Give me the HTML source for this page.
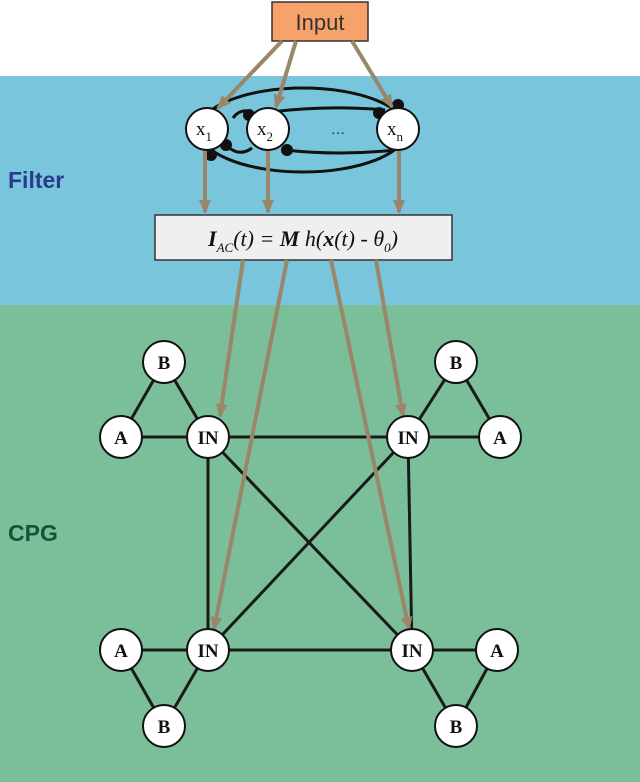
<!DOCTYPE html><html><head><style>body{margin:0;background:#fff}svg{display:block}</style></head><body>
<svg width="640" height="782" viewBox="0 0 640 782" xmlns="http://www.w3.org/2000/svg" font-family="Liberation Serif, serif">
<defs><marker id="ar" markerWidth="14" markerHeight="12" refX="12" refY="6" orient="auto" markerUnits="userSpaceOnUse"><path d="M0,0 L14,6 L0,12 z" fill="#9a8769"/></marker></defs>
<rect x="0" y="76" width="640" height="229" fill="#79c6dc"/>
<rect x="0" y="305" width="640" height="477" fill="#7bbf9a"/>
<text x="8" y="188" font-family="Liberation Sans, sans-serif" font-weight="bold" font-size="23" fill="#2a3a8c">Filter</text>
<text x="8" y="541" font-family="Liberation Sans, sans-serif" font-weight="bold" font-size="23" fill="#14553a">CPG</text>
<rect x="272" y="2" width="96" height="39" fill="#f7a26a" stroke="#333" stroke-width="1.5"/>
<text x="320" y="30" text-anchor="middle" font-family="Liberation Sans, sans-serif" font-size="22" fill="#333">Input</text>
<g fill="none" stroke="#111" stroke-width="3">
<ellipse cx="303" cy="130" rx="104" ry="42"/>
<path d="M270,112 Q330,105 385,110 M285,150 Q340,156 395,150"/>
<path d="M233,118 Q240,108 252,112 M228,147 Q240,157 252,148"/>
</g>
<g fill="#111"><circle cx="249" cy="115" r="6"/><circle cx="226" cy="145" r="6"/><circle cx="211" cy="155" r="6"/><circle cx="287" cy="150" r="6"/><circle cx="379" cy="113" r="6"/><circle cx="398" cy="105" r="6"/></g>
<g stroke="#9a8769" stroke-width="4" marker-end="url(#ar)">
<line x1="282" y1="41" x2="218" y2="108"/><line x1="296" y1="41" x2="276" y2="107"/><line x1="352" y1="41" x2="392" y2="107"/>
<line x1="205" y1="150" x2="205" y2="212"/><line x1="268" y1="150" x2="268" y2="212"/><line x1="399" y1="150" x2="399" y2="212"/>
</g>
<g fill="#fff" stroke="#111" stroke-width="2"><circle cx="207" cy="129" r="21"/><circle cx="268" cy="129" r="21"/><circle cx="398" cy="129" r="21"/></g>
<g font-size="19" fill="#111" text-anchor="middle"><text x="204" y="135">x<tspan font-size="13" dy="6">1</tspan></text><text x="265" y="135">x<tspan font-size="13" dy="6">2</tspan></text><text x="395" y="135">x<tspan font-size="13" dy="6">n</tspan></text><text x="338" y="134" font-size="14">…</text></g>
<rect x="155" y="215" width="297" height="45" fill="#efefef" stroke="#333" stroke-width="1.5"/>
<text x="303" y="246" text-anchor="middle" font-size="22" font-style="italic" fill="#111"><tspan font-weight="bold">I</tspan><tspan font-size="13" dy="6">AC</tspan><tspan dy="-6">(t) = </tspan><tspan font-weight="bold">M</tspan> h(<tspan font-weight="bold">x</tspan>(t) - θ<tspan font-size="13" dy="6">0</tspan><tspan dy="-6">)</tspan></text>
<g stroke="#1a1a1a" stroke-width="3">
<line x1="121" y1="437" x2="208" y2="437"/><line x1="121" y1="437" x2="164" y2="362"/><line x1="164" y1="362" x2="208" y2="437"/>
<line x1="500" y1="437" x2="408" y2="437"/><line x1="500" y1="437" x2="456" y2="362"/><line x1="456" y1="362" x2="408" y2="437"/>
<line x1="121" y1="650" x2="208" y2="650"/><line x1="121" y1="650" x2="164" y2="726"/><line x1="164" y1="726" x2="208" y2="650"/>
<line x1="497" y1="650" x2="412" y2="650"/><line x1="497" y1="650" x2="456" y2="726"/><line x1="456" y1="726" x2="412" y2="650"/>
<line x1="208" y1="437" x2="408" y2="437"/><line x1="208" y1="650" x2="412" y2="650"/><line x1="208" y1="437" x2="208" y2="650"/><line x1="408" y1="437" x2="412" y2="650"/>
<line x1="208" y1="437" x2="412" y2="650"/><line x1="408" y1="437" x2="208" y2="650"/>
</g>
<g stroke="#9a8769" stroke-width="4" marker-end="url(#ar)">
<line x1="243" y1="260" x2="220" y2="416"/><line x1="287" y1="260" x2="214" y2="629"/><line x1="331" y1="260" x2="409" y2="629"/><line x1="376" y1="260" x2="403" y2="416"/>
</g>
<g fill="#fff" stroke="#111" stroke-width="2"><circle cx="164" cy="362" r="21"/><circle cx="121" cy="437" r="21"/><circle cx="208" cy="437" r="21"/><circle cx="456" cy="362" r="21"/><circle cx="500" cy="437" r="21"/><circle cx="408" cy="437" r="21"/><circle cx="121" cy="650" r="21"/><circle cx="208" cy="650" r="21"/><circle cx="164" cy="726" r="21"/><circle cx="412" cy="650" r="21"/><circle cx="497" cy="650" r="21"/><circle cx="456" cy="726" r="21"/></g>
<g font-size="19" font-weight="bold" fill="#111" text-anchor="middle">
<text x="164" y="369">B</text><text x="121" y="444">A</text><text x="208" y="444">IN</text><text x="456" y="369">B</text><text x="500" y="444">A</text><text x="408" y="444">IN</text>
<text x="121" y="657">A</text><text x="208" y="657">IN</text><text x="164" y="733">B</text><text x="412" y="657">IN</text><text x="497" y="657">A</text><text x="456" y="733">B</text>
</g>
</svg></body></html>
